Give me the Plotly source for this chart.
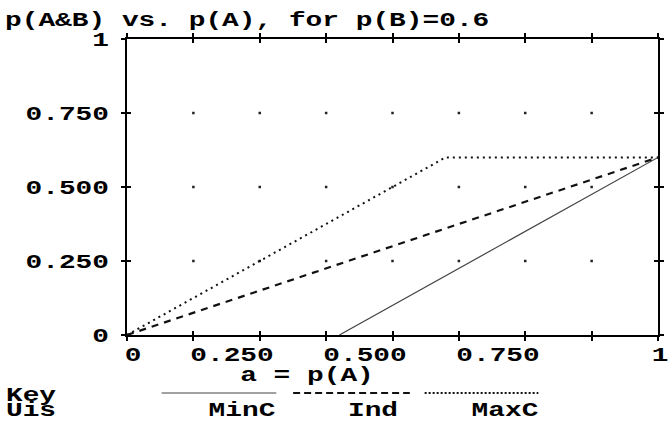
import plotly.graph_objects as go

# ---- data ----
a_minc = [0.4, 1.0]
p_minc = [0.0, 0.6]
a_ind = [0.0, 1.0]
p_ind = [0.0, 0.6]
a_maxc = [0.0, 0.6, 1.0]
p_maxc = [0.0, 0.6, 0.6]

x_tickvals = [0, 0.25, 0.5, 0.75, 1]
x_ticktext = ["0", "0.250", "0.500", "0.750", "1"]
y_tickvals = [0, 0.25, 0.5, 0.75, 1]
y_ticktext = ["0", "0.250", "0.500", "0.750", "1"]
x_minor_step = 0.125
grid_x = [0.125 * i for i in range(1, 8)]
grid_y = [0.25, 0.5, 0.75]

title_text = "p(A&B) vs. p(A), for p(B)=0.6"
x_title = "a = p(A)"
legend_names = ["MinC", "Ind", "MaxC"]

W, H = 670, 421
L, R, T, B = 127, 6, 39, 86
PW, PH = W - L - R, H - T - B
CW = 16.7  # character cell width of the original bitmap font

def px(x):
    return (x - L) / PW

def py(y):
    return (H - B - y) / PH

FONT = "Liberation Mono"
fs = 20
font = dict(family=FONT, size=fs, color="black", weight="bold")

fig = go.Figure()

# grid dots
gx, gy = [], []
for yv in grid_y:
    for xv in grid_x:
        gx.append(xv)
        gy.append(yv)
fig.add_trace(go.Scatter(x=gx, y=gy, mode="markers",
                         marker=dict(symbol="square", size=2.5, color="#222"),
                         showlegend=False, hoverinfo="skip"))

fig.add_trace(go.Scatter(x=a_minc, y=p_minc, mode="lines", name="MinC",
                         line=dict(color="#444", width=1.2), showlegend=False))
fig.add_trace(go.Scatter(x=a_ind, y=p_ind, mode="lines", name="Ind",
                         line=dict(color="#111", width=2.2, dash="7px,6px"), showlegend=False))
fig.add_trace(go.Scatter(x=a_maxc, y=p_maxc, mode="lines", name="MaxC",
                         line=dict(color="#111", width=2, dash="2px,4px"), showlegend=False))

# invisible trace for overlay axes (inside ticks)
fig.add_trace(go.Scatter(x=[0, 1], y=[0, 1], xaxis="x2", yaxis="y2", mode="lines",
                         line=dict(width=0), showlegend=False, hoverinfo="skip", opacity=0))

fig.update_layout(
    width=W, height=H,
    margin=dict(l=L, r=R, t=T, b=B),
    paper_bgcolor="white", plot_bgcolor="white",
    title=dict(text=title_text, x=5 / W, xanchor="left", y=1 - 19 / H, yanchor="middle",
               font=font),
    xaxis=dict(range=[0, 1], showgrid=False, zeroline=False, showline=True,
               linecolor="black", linewidth=2, mirror="ticks",
               ticks="outside", ticklen=4, tickwidth=2, tickcolor="black",
               tick0=0, dtick=x_minor_step, showticklabels=False),
    yaxis=dict(range=[0, 1], showgrid=False, zeroline=False, showline=True,
               linecolor="black", linewidth=2, mirror="ticks",
               ticks="outside", ticklen=4, tickwidth=2, tickcolor="black",
               tickvals=y_tickvals, ticktext=y_ticktext,
               tickfont=font, ticklabelstandoff=8),
    xaxis2=dict(range=[0, 1], overlaying="x", showgrid=False, zeroline=False,
                showline=False, mirror="ticks", ticks="inside", ticklen=4,
                tickwidth=2, tickcolor="black", tick0=0, dtick=x_minor_step,
                showticklabels=False),
    yaxis2=dict(range=[0, 1], overlaying="y", showgrid=False, zeroline=False,
                showline=False, mirror="ticks", ticks="inside", ticklen=4,
                tickwidth=2, tickcolor="black", tickvals=y_tickvals,
                showticklabels=False),
)

# x tick labels: right edge just past the tick, as in the original
for i, (v, t) in enumerate(zip(x_tickvals, x_ticktext)):
    last = i == len(x_tickvals) - 1
    shift = 2 if last else 14 - len(t) * CW / 2
    fig.add_annotation(x=v, y=0, xref="x", yref="y", text=t, showarrow=False,
                       xanchor="center", xshift=shift,
                       yanchor="middle", yshift=-(355 - (H - B)), font=font)

# x axis title
fig.add_annotation(x=px(309), y=py(375), xref="paper", yref="paper", text=x_title,
                   showarrow=False, xanchor="center", yanchor="middle", font=font)

# key
for txt, yc in (("Key", 395), ("Uis", 410)):
    fig.add_annotation(x=px(5 + len(txt) * CW / 2), y=py(yc), xref="paper", yref="paper",
                       text=txt, showarrow=False, xanchor="center", yanchor="middle",
                       font=font)

key_lines = [
    (162, 278, dict(color="#444", width=1.2), 277),
    (295, 413, dict(color="#111", width=2, dash="7px,4px"), 401),
    (428, 543, dict(color="#111", width=2, dash="2px,2px"), 543),
]
for (x0, x1, ln, lab_r), name in zip(key_lines, legend_names):
    fig.add_shape(type="line", xref="paper", yref="paper",
                  x0=px(x0), x1=px(x1), y0=py(393), y1=py(393), line=ln)
    fig.add_annotation(x=px(lab_r - len(name) * CW / 2), y=py(410), xref="paper",
                       yref="paper", text=name, showarrow=False, xanchor="center",
                       yanchor="middle", font=font)

post = """
document.body.style.margin='0';document.body.style.padding='0';
(function(){
  var CW = %s;
  document.querySelectorAll('svg text').forEach(function(t){
    var s = t.textContent;
    if(!s || !s.trim()) return;
    t.setAttribute('textLength', (s.length*CW).toFixed(1));
    t.setAttribute('lengthAdjust', 'spacingAndGlyphs');
  });
})();
""" % CW

fig.write_html("out.html", post_script=post, config={"displayModeBar": False})
